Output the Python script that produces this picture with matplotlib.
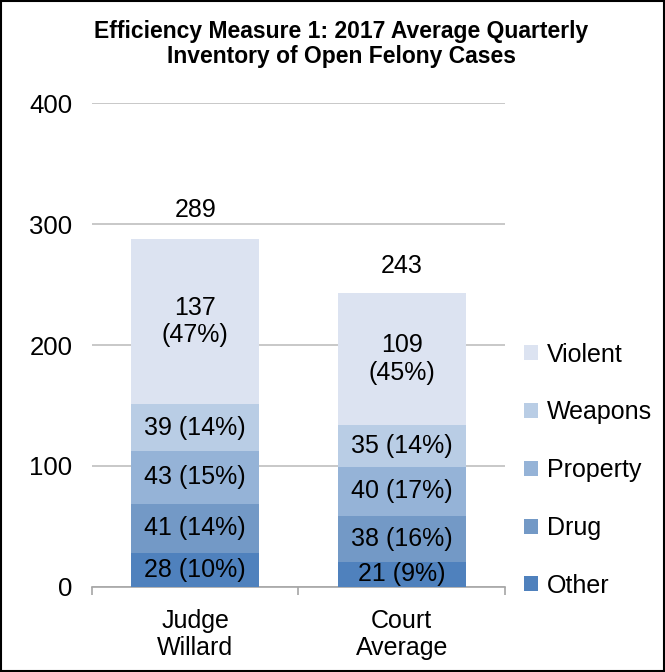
import numpy as np
import matplotlib.pyplot as plt
from matplotlib.patches import Rectangle

plt.rcParams['font.family'] = ['Liberation Sans', 'DejaVu Sans']

categories = ["Judge\nWillard", "Court\nAverage"]
series = ["Other", "Drug", "Property", "Weapons", "Violent"]
other = [28, 21]
drug = [41, 38]
prop = [43, 40]
weapons = [39, 35]
violent = [137, 109]
pct_other = [10, 9]
pct_drug = [14, 16]
pct_prop = [15, 17]
pct_weapons = [14, 14]
pct_violent = [47, 45]
totals = [289, 243]

values = [other, drug, prop, weapons, violent]
pcts = [pct_other, pct_drug, pct_prop, pct_weapons, pct_violent]
colors = ["#4F81BD", "#7399C6", "#95B3D7", "#B9CDE5", "#DCE3F1"]

fig = plt.figure(figsize=(6.65, 6.72), dpi=100)
ax = fig.add_axes([0.1383, 0.1265, 0.621, 0.7202])

x = np.arange(len(categories))
bottom = np.zeros(len(categories))
handles = []
for name, vals, pc, col in zip(series, values, pcts, colors):
    b = ax.bar(x, vals, 0.62, bottom=bottom, color=col, label=name, zorder=3)
    handles.append(b)
    for xi, v, p, bt in zip(x, vals, pc, bottom):
        if name == "Violent":
            txt = "%d\n(%d%%)" % (v, p)
            ax.text(xi, bt + v * 0.5, txt, ha="center", va="center", fontsize=18,
                    linespacing=1.2, zorder=4)
        else:
            ax.text(xi, bt + v / 2, "%d (%d%%)" % (v, p), ha="center", va="center",
                    fontsize=18, zorder=4)
    bottom = bottom + np.array(vals)

for xi, t in zip(x, totals):
    ax.annotate(str(t), (xi, t), xytext=(0, 11), textcoords="offset points",
                ha="center", va="bottom", fontsize=18)

ax.set_xlim(-0.5, 1.5)
ax.set_ylim(0, 400)
ax.set_yticks([0, 100, 200, 300, 400])
ax.yaxis.grid(True, color="#BFBFBF", linewidth=1.2, zorder=0)
ax.set_axisbelow(True)
for s in ["top", "right", "left"]:
    ax.spines[s].set_visible(False)
ax.spines["bottom"].set_color("#A6A6A6")
ax.spines["bottom"].set_linewidth(1.2)
ax.tick_params(axis="y", length=0, labelsize=18.5, pad=14)
ax.set_xticks([-0.5, 0.5, 1.5])
ax.set_xticklabels([])
ax.tick_params(axis="x", length=6, color="#A6A6A6", width=1.2)
for xi, c in zip(x, categories):
    ax.text(xi, -18, c, ha="center", va="top", fontsize=18, linespacing=1.18,
            transform=ax.transData)

fig.suptitle("Efficiency Measure 1: 2017 Average Quarterly\nInventory of Open Felony Cases",
             x=0.513, y=0.97, fontsize=16.5, fontweight="bold", linespacing=1.12)

fig.legend(handles[::-1], series[::-1], loc="upper left", bbox_to_anchor=(0.773, 0.505),
           frameon=False, fontsize=18, handlelength=0.55, handleheight=0.55,
           handletextpad=0.35, labelspacing=1.35, borderaxespad=0)

fig.patches.append(Rectangle((0.002, 0.002), 0.996, 0.996, transform=fig.transFigure,
                             fill=False, edgecolor="black", linewidth=1.5))

fig.savefig("out.png", dpi=100)
